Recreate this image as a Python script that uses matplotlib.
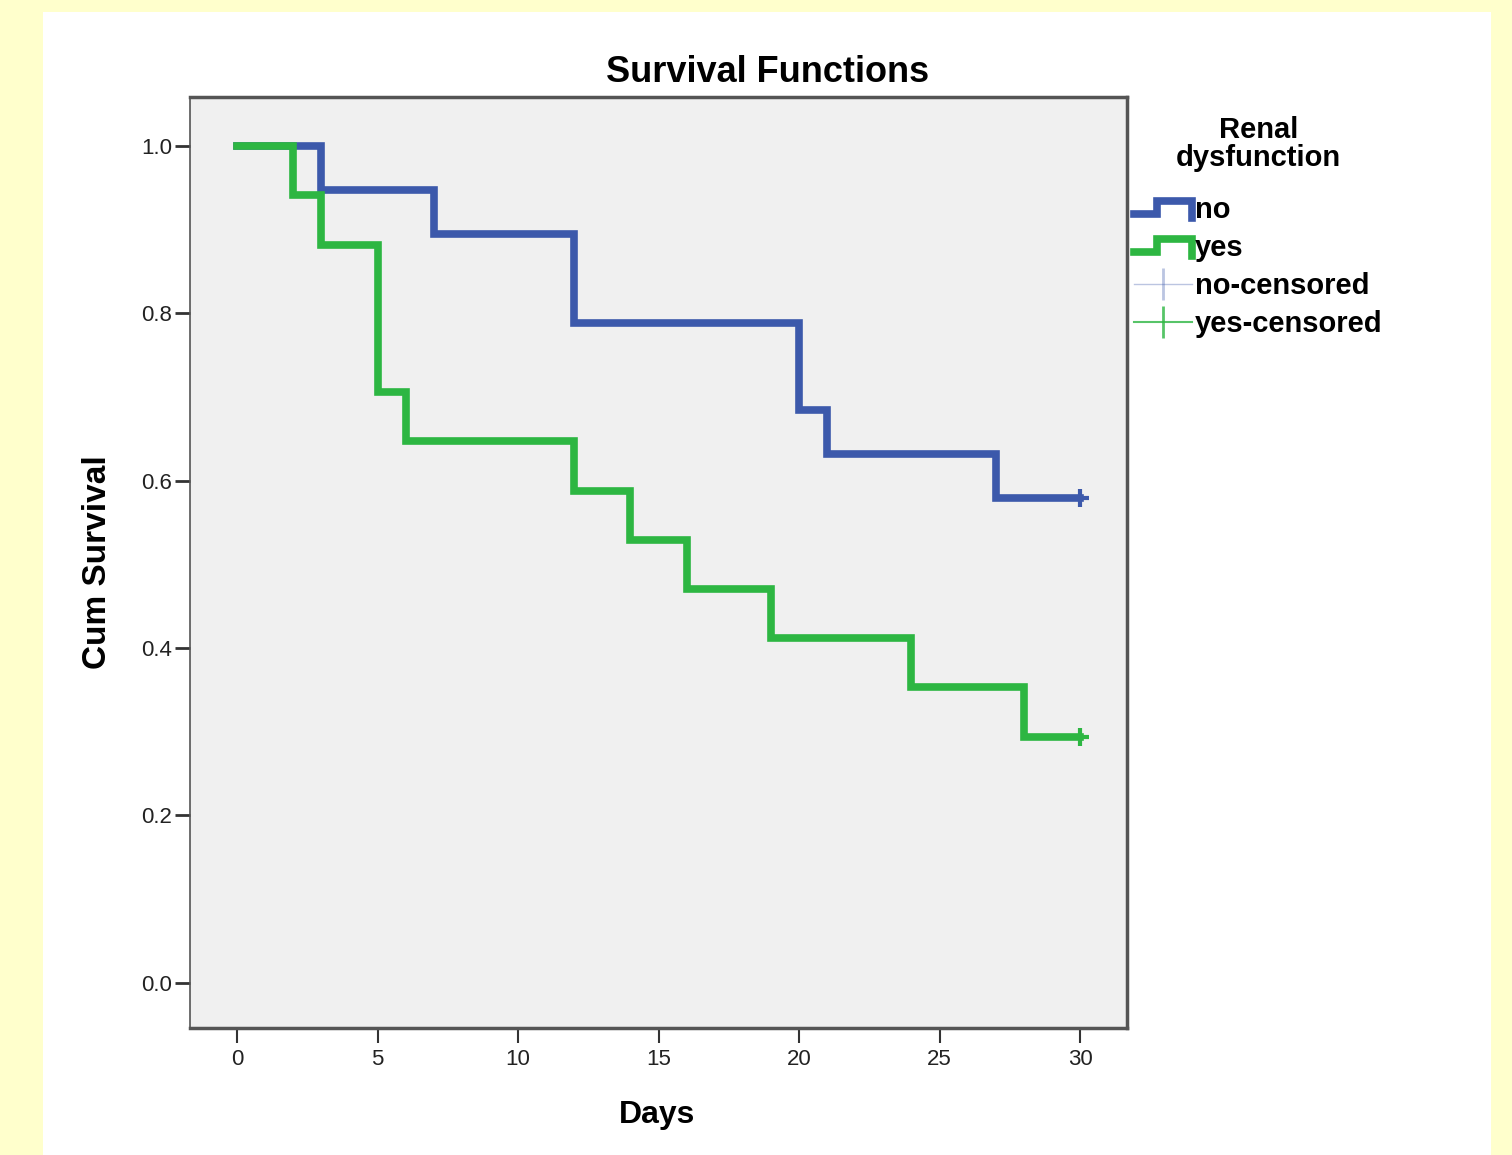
import matplotlib.pyplot as plt
from matplotlib.legend_handler import HandlerBase
from matplotlib.lines import Line2D
from matplotlib.patches import Rectangle

# Kaplan-Meier step values
no_days = [0, 3, 7, 12, 20, 21, 27, 30]
no_surv = [1.0, 0.947, 0.895, 0.789, 0.684, 0.632, 0.579, 0.579]
yes_days = [0, 2, 3, 5, 6, 12, 14, 16, 19, 24, 28, 30]
yes_surv = [1.0, 0.941, 0.882, 0.706, 0.647, 0.588, 0.529, 0.471, 0.412, 0.353, 0.294, 0.294]
censor_day = 30

x_ticks = [0, 5, 10, 15, 20, 25, 30]
y_ticks = [0.0, 0.2, 0.4, 0.6, 0.8, 1.0]

blue = '#3c59ab'
green = '#2db642'

plt.rcParams['font.family'] = ['Liberation Sans', 'DejaVu Sans']


class StepHandler(HandlerBase):
    # legend key drawn as a small step, like the SPSS survival legend
    def create_artists(self, legend, orig, xd, yd, w, h, fontsize, trans):
        xs = [0, 0.4 * w, 0.4 * w, w, w]
        ys = [0.2 * h, 0.2 * h, 0.8 * h, 0.8 * h, 0.0]
        ln = Line2D([x - xd for x in xs], [y - yd for y in ys], color=orig.get_color(),
                    lw=orig.get_linewidth(), solid_joinstyle='miter', transform=trans)
        return [ln]


fig = plt.figure(figsize=(15.12, 11.55), dpi=100)
fig.patch.set_facecolor('#ffffcc')
fig.patches.append(Rectangle((0.0284, 0.0), 0.958, 0.9896, transform=fig.transFigure,
                             facecolor='white', edgecolor='none', zorder=-5))

ax = fig.add_axes([0.1257, 0.110, 0.6197, 0.806])
ax.set_facecolor('#f0f0f0')

ax.step(no_days, no_surv, where='post', color=blue, lw=5.5, solid_joinstyle='miter')
ax.step(yes_days, yes_surv, where='post', color=green, lw=5.5, solid_joinstyle='miter')
ax.plot([censor_day], [no_surv[-1]], marker='+', color=blue, ms=13, mew=3)
ax.plot([censor_day], [yes_surv[-1]], marker='+', color=green, ms=13, mew=3)

ax.set_xlim(-1.67, 31.67)
ax.set_ylim(-0.054, 1.0585)
ax.set_xticks(x_ticks)
ax.set_yticks(y_ticks)
ax.set_yticklabels([f'{v:.1f}' for v in y_ticks])
ax.tick_params(axis='both', labelsize=16, direction='out', color='#333333', labelcolor='#222222')
ax.tick_params(axis='y', length=11, width=2, pad=2)
ax.tick_params(axis='x', length=11, width=1.5, pad=4)
for s in ax.spines.values():
    s.set_color('#555555')
    s.set_linewidth(2.5)
ax.spines['left'].set_linewidth(1.2)

fig.text(768 / 1512, 1 - 82 / 1155, 'Survival Functions', fontsize=26, fontweight='bold',
         ha='center', va='baseline')
ax.set_xlabel('Days', fontsize=23, fontweight='bold')
ax.set_ylabel('Cum Survival', fontsize=24, fontweight='bold')
ax.xaxis.set_label_coords(0.498, -0.0773)
ax.yaxis.set_label_coords(-0.082, 0.5)

handles = [
    Line2D([], [], color=blue, lw=5.5),
    Line2D([], [], color=green, lw=5.5),
    Line2D([], [], color=blue, lw=1, alpha=0.35, marker='|', ms=23, mew=2),
    Line2D([], [], color=green, lw=1.5, alpha=0.8, marker='|', ms=23, mew=2),
]
labels = ['no', 'yes', 'no-censored', 'yes-censored']
leg = fig.legend(handles, labels, title='Renal\ndysfunction', loc='upper left',
                 bbox_to_anchor=(1134 / 1512, 1 - 116 / 1155), frameon=False, fontsize=21,
                 title_fontproperties={'size': 21, 'weight': 'bold'},
                 handler_map={handles[0]: StepHandler(), handles[1]: StepHandler()},
                 handlelength=2.0, handletextpad=0.1, labelspacing=0.35,
                 borderpad=0, borderaxespad=0)
leg.get_title().set_multialignment('center')
leg.get_title().set_linespacing(1.0)
leg._legend_box.sep = 17
for t in leg.get_texts():
    t.set_fontweight('bold')

plt.savefig('out.png', dpi=100)
